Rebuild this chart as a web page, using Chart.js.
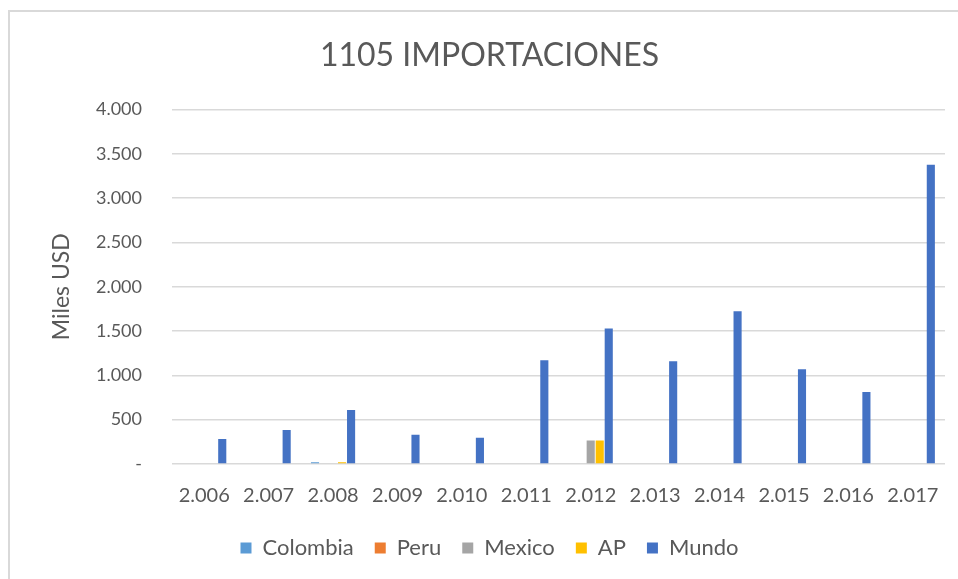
<!DOCTYPE html>
<html>
<head>
<meta charset="utf-8">
<script src="https://cdn.jsdelivr.net/npm/chart.js@4"></script>
<style>
  body { margin: 0; background: #fff; }
  #wrap { position: relative; width: 958px; height: 579px; }
  #frame { position: absolute; left: 8px; top: 10px; right: 0; bottom: 0;
           border-left: 2px solid #d9d9d9; border-top: 2px solid #d9d9d9; }
  canvas { position: absolute; left: 0; top: 0; }
</style>
</head>
<body>
<div id="wrap">
  <div id="frame"></div>
  <canvas id="chart" width="958" height="579"></canvas>
</div>
<script>
const years = ["2.006", "2.007", "2.008", "2.009", "2.010", "2.011", "2.012", "2.013", "2.014", "2.015", "2.016", "2.017"];
const colombia = [0, 0, 20, 0, 0, 0, 0, 0, 0, 0, 0, 0];
const peru = [0, 0, 0, 0, 0, 0, 0, 0, 0, 0, 0, 0];
const mexico = [0, 0, 0, 0, 0, 0, 265, 0, 0, 0, 0, 0];
const ap = [0, 0, 20, 0, 0, 0, 265, 0, 0, 0, 0, 0];
const mundo = [282, 383, 608, 330, 295, 1169, 1528, 1160, 1723, 1070, 811, 3376];

const grey = "#595959";
const font = "Lato";

function ds(label, data, color) {
    return { label: label, data: data, backgroundColor: color, borderWidth: 0,
             categoryPercentage: 0.7, barPercentage: 0.9 };
}

new Chart(document.getElementById("chart"), {
    type: "bar",
    data: {
        labels: years,
        datasets: [
            ds("Colombia", colombia, "#5B9BD5"),
            ds("Peru", peru, "#ED7D31"),
            ds("Mexico", mexico, "#A5A5A5"),
            ds("AP", ap, "#FFC000"),
            ds("Mundo", mundo, "#4472C4")
        ]
    },
    options: {
        responsive: false,
        animation: false,
        layout: { padding: { left: 34, right: 13, top: 0, bottom: 10 } },
        plugins: {
            title: {
                display: true,
                text: "1105 IMPORTACIONES",
                color: grey,
                font: { family: font, size: 32, weight: "normal" },
                padding: { top: 36, bottom: 35 }
            },
            legend: {
                position: "bottom",
                labels: {
                    color: grey,
                    font: { family: font, size: 22 },
                    boxWidth: 11,
                    boxHeight: 11,
                    padding: 21
                }
            },
            tooltip: { enabled: false }
        },
        scales: {
            x: {
                grid: { display: false },
                border: { display: false },
                ticks: { color: grey, font: { family: font, size: 20 }, padding: 12, maxRotation: 0 },
                afterFit: function (scale) { scale.height = 52; }
            },
            y: {
                min: 0,
                max: 4000,
                grid: { color: "#d9d9d9", lineWidth: 1.5, drawTicks: false },
                border: { display: false },
                ticks: {
                    stepSize: 500,
                    color: grey,
                    font: { family: font, size: 18 },
                    padding: 30,
                    callback: function (v) { return v === 0 ? "-" : v.toLocaleString("de-DE"); }
                },
                title: {
                    display: true,
                    text: "Miles USD",
                    color: grey,
                    font: { family: font, size: 23 },
                    padding: { top: 14, bottom: 0 }
                },
                afterFit: function (scale) { scale.width = 138; }
            }
        }
    }
});
</script>
</body>
</html>
